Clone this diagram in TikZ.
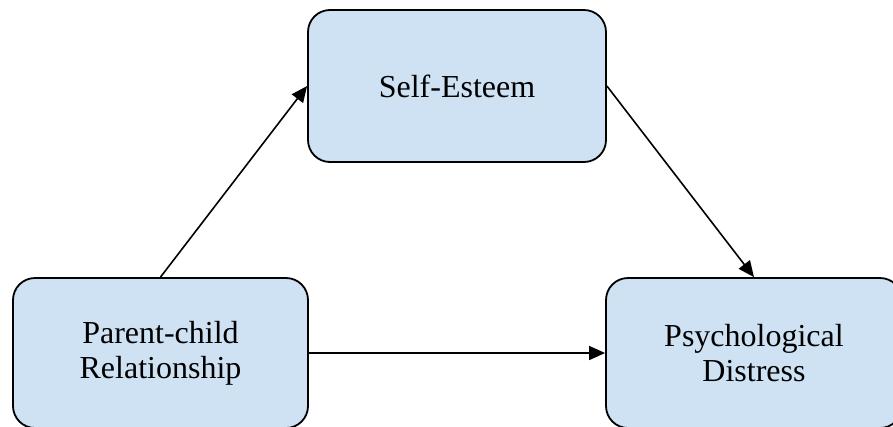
\documentclass[tikz,border=0pt]{standalone}
\usepackage{fontspec}
\setmainfont{Liberation Serif}
\usetikzlibrary{arrows.meta}
\definecolor{boxfill}{HTML}{CFE2F3}
\begin{document}
\begin{tikzpicture}[x=1pt,y=1pt,
  varbox/.style={draw=black, line width=1.8pt, fill=boxfill, rounded corners=22pt,
    align=center, inner sep=0pt, font=\fontsize{32}{35}\selectfont},
  conn/.style={draw=black, line width=1.6pt, -{Triangle[length=16pt,width=14pt]}}]
\useasboundingbox (0,0) rectangle (893,-426);
\node[varbox, minimum width=298pt, minimum height=152pt] (se) at (457,-86) {Self-Esteem};
\node[varbox, minimum width=295pt, minimum height=150pt] (pc) at (160.5,-353) {Parent-child\\Relationship};
\node[varbox, minimum width=296pt, minimum height=150pt] (pd) at (754,-353) {Psychological\\Distress};
\draw[conn] (pc.north) -- (se.west);
\draw[conn] (se.east) -- (pd.north);
\draw[conn] (pc.east) -- (pd.west);
\end{tikzpicture}
\end{document}
